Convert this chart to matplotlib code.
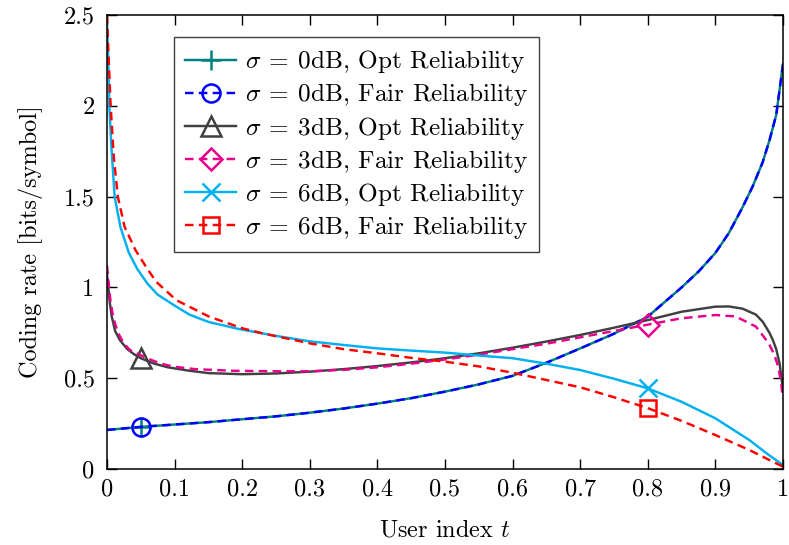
import numpy as np
import matplotlib
matplotlib.use('Agg')
import matplotlib.pyplot as plt
from matplotlib.lines import Line2D

plt.rcParams['font.family'] = 'cmr10'
plt.rcParams['mathtext.fontset'] = 'cm'
plt.rcParams['axes.formatter.use_mathtext'] = True

# sigma = 0dB (opt and fair lie on top of each other)
t_0db = [0, 0.05, 0.1, 0.15, 0.2, 0.25, 0.3, 0.35, 0.4, 0.45, 0.5, 0.55, 0.6,
         0.65, 0.7, 0.75, 0.8, 0.85, 0.875, 0.9, 0.92, 0.94, 0.955, 0.97, 0.98,
         0.99, 1.0]
opt_0db = [0.215, 0.232, 0.245, 0.258, 0.274, 0.29, 0.31, 0.333, 0.36, 0.39,
           0.426, 0.466, 0.513, 0.585, 0.664, 0.745, 0.839, 1.0, 1.087, 1.19,
           1.30, 1.44, 1.555, 1.69, 1.81, 1.95, 2.23]
fair_0db = [0.215, 0.232, 0.245, 0.258, 0.274, 0.29, 0.31, 0.333, 0.36, 0.39,
            0.426, 0.466, 0.513, 0.585, 0.664, 0.745, 0.839, 1.0, 1.087, 1.19,
            1.30, 1.44, 1.555, 1.69, 1.81, 1.95, 2.23]

# sigma = 3dB
t_3db_opt = [0, 0.001, 0.002, 0.004, 0.007, 0.012, 0.019, 0.03, 0.04, 0.05, 0.07,
             0.09, 0.12, 0.15, 0.2, 0.25, 0.3, 0.35, 0.4, 0.45, 0.5, 0.55, 0.6,
             0.65, 0.7, 0.75, 0.8, 0.85, 0.9, 0.92, 0.94, 0.96, 0.97, 0.98,
             0.985, 0.99, 0.995, 1.0]
opt_3db = [1.07, 1.04, 1.0, 0.92, 0.84, 0.76, 0.71, 0.66, 0.632, 0.61, 0.58,
           0.56, 0.542, 0.528, 0.522, 0.526, 0.536, 0.55, 0.567, 0.587, 0.61,
           0.637, 0.668, 0.702, 0.738, 0.778, 0.82, 0.866, 0.894, 0.895, 0.883,
           0.85, 0.811, 0.75, 0.71, 0.66, 0.58, 0.435]
t_3db_fair = [0, 0.0015, 0.003, 0.005, 0.008, 0.012, 0.0167, 0.025, 0.034, 0.05,
              0.063, 0.08, 0.1, 0.13, 0.185, 0.25, 0.3, 0.35, 0.4, 0.45, 0.5,
              0.55, 0.6, 0.65, 0.7, 0.75, 0.8, 0.85, 0.9, 0.93, 0.96, 0.979,
              0.987, 0.993, 0.997, 1.0]
fair_3db = [1.12, 1.06, 1.0, 0.93, 0.86, 0.8, 0.747, 0.69, 0.655, 0.626, 0.604,
            0.58, 0.563, 0.55, 0.541, 0.538, 0.538, 0.546, 0.56, 0.58, 0.603,
            0.63, 0.66, 0.69, 0.725, 0.76, 0.795, 0.83, 0.848, 0.84, 0.784,
            0.692, 0.63, 0.563, 0.48, 0.389]

# sigma = 6dB
t_6db_opt = [0, 0.0015, 0.0034, 0.0064, 0.0113, 0.02, 0.0324, 0.045, 0.06, 0.075,
             0.1, 0.122, 0.15, 0.196, 0.25, 0.3, 0.35, 0.4, 0.45, 0.5, 0.55, 0.6,
             0.65, 0.7, 0.75, 0.8, 0.85, 0.9, 0.95, 0.979, 1.0]
opt_6db = [2.45, 2.3, 2.0, 1.78, 1.5, 1.33, 1.19, 1.1, 1.02, 0.96, 0.9, 0.85,
           0.81, 0.77, 0.733, 0.703, 0.683, 0.664, 0.652, 0.641, 0.625, 0.61,
           0.58, 0.545, 0.497, 0.444, 0.37, 0.279, 0.16, 0.077, 0.022]
t_6db_fair = [0, 0.002, 0.0054, 0.01, 0.016, 0.026, 0.042, 0.06, 0.073, 0.1025,
              0.151, 0.2, 0.23, 0.3, 0.35, 0.4, 0.45, 0.5, 0.55, 0.6, 0.65, 0.7,
              0.75, 0.8, 0.85, 0.9, 0.95, 0.985, 1.0]
fair_6db = [2.5, 2.3, 2.0, 1.72, 1.5, 1.334, 1.206, 1.1, 1.03, 0.93, 0.839,
            0.775, 0.747, 0.692, 0.66, 0.637, 0.612, 0.591, 0.565, 0.53, 0.49,
            0.45, 0.395, 0.335, 0.265, 0.187, 0.105, 0.04, 0.013]

labels = [r'$\sigma\:=\:0$dB, Opt Reliability', r'$\sigma\:=\:0$dB, Fair Reliability',
          r'$\sigma\:=\:3$dB, Opt Reliability', r'$\sigma\:=\:3$dB, Fair Reliability',
          r'$\sigma\:=\:6$dB, Opt Reliability', r'$\sigma\:=\:6$dB, Fair Reliability']
mark_t = [0.05, 0.05, 0.05, 0.8, 0.8, 0.8]

xticks = [0, 0.1, 0.2, 0.3, 0.4, 0.5, 0.6, 0.7, 0.8, 0.9, 1]
xticklabels = ['0', '0.1', '0.2', '0.3', '0.4', '0.5', '0.6', '0.7', '0.8', '0.9', '1']
yticks = [0, 0.5, 1, 1.5, 2, 2.5]
yticklabels = ['0', '0.5', '1', '1.5', '2', '2.5']

series = [
    (t_0db, opt_0db, '#008080', '-', '+', 15),
    (t_0db, fair_0db, '#0000ff', (0, (3.5, 2.2)), 'o', 13),
    (t_3db_opt, opt_3db, '#404040', '-', '^', 14),
    (t_3db_fair, fair_3db, '#e6008c', (0, (3.5, 2.2)), 'D', 11),
    (t_6db_opt, opt_6db, '#00b0f0', '-', 'x', 13),
    (t_6db_fair, fair_6db, '#ff0000', (0, (3.5, 2.2)), 's', 12),
]

fig = plt.figure(figsize=(7.89, 5.45), dpi=100)
ax = fig.add_axes([107 / 789, 1 - 469 / 545, 676 / 789, 454 / 545])

handles = []
for (t, r, c, ls, mk, ms), lab, mt in zip(series, labels, mark_t):
    ax.plot(t, r, color=c, ls=ls, lw=1.75)
    ax.plot([mt], [np.interp(mt, t, r)], ls='none', marker=mk, ms=ms,
            mfc='none', mec=c, mew=1.8)
    handles.append(Line2D([], [], color=c, ls=ls, lw=1.75, marker=mk, ms=ms,
                          mfc='none', mec=c, mew=1.8))

ax.set_xlim(0, 1)
ax.set_ylim(0, 2.5)
ax.set_xticks(xticks)
ax.set_xticklabels(xticklabels)
ax.set_yticks(yticks)
ax.set_yticklabels(yticklabels)
ax.tick_params(direction='in', top=True, right=True, length=7, width=1,
               labelsize=17.5)
ax.tick_params(axis='x', pad=7)
ax.tick_params(axis='y', pad=9)
for s in ax.spines.values():
    s.set_linewidth(1.1)
ax.set_xlabel(r'User index $t$', fontsize=17.5, labelpad=13)
ax.set_ylabel('Coding rate [bits/symbol]', fontsize=17.5, labelpad=15)

leg = ax.legend(handles, labels, loc='upper left',
                bbox_to_anchor=(67 / 676, (469 - 37) / 454), borderaxespad=0,
                fontsize=18.2, fancybox=False, edgecolor='#404040',
                framealpha=1, handlelength=2.0, labelspacing=0.24,
                handletextpad=0.35, borderpad=0.45)
leg.get_frame().set_linewidth(1.0)

fig.savefig('out.png', dpi=100)
